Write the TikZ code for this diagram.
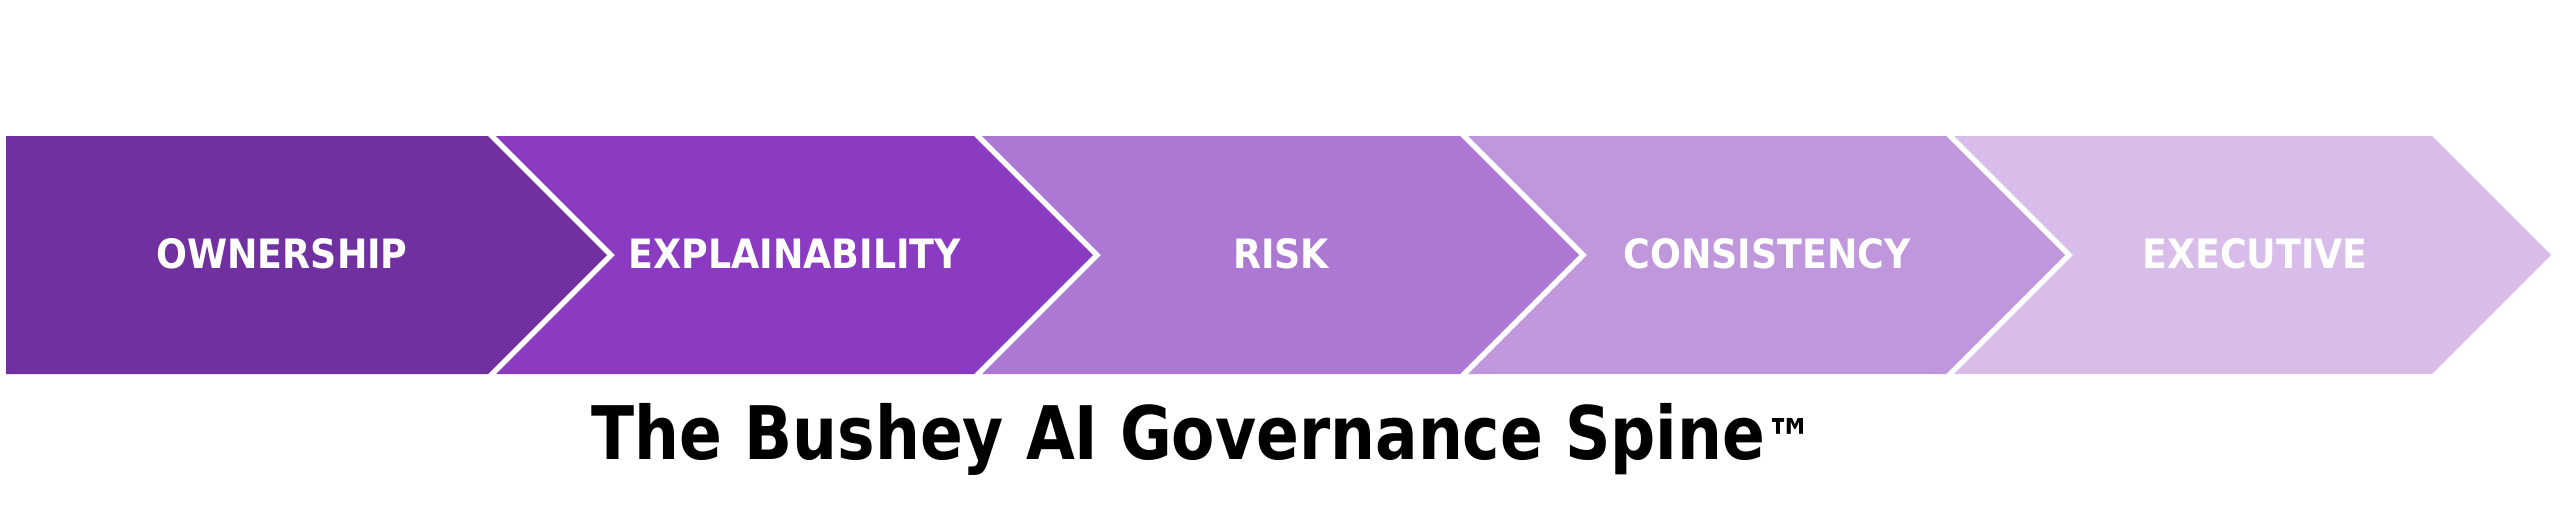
\documentclass[tikz,border=0pt]{standalone}
\usepackage{fontspec}
\usepackage{xcolor}
\usepackage{tikz}
\newfontfamily\spinefont{DejaVu Sans Condensed}
\newfontfamily\titlefont{DejaVu Sans Condensed}[FakeStretch=0.95]

\definecolor{ownerpurple}{HTML}{7030A0}
\definecolor{explainpurple}{HTML}{8A3BC2}
\definecolor{riskpurple}{HTML}{AD78D4}
\definecolor{consistpurple}{HTML}{C096DD}
\definecolor{execpurple}{HTML}{D8BCEA}

\tikzset{
  steplabel/.style={text=white, anchor=base, inner sep=0pt,
    font=\spinefont\bfseries\fontsize{11.5}{13}\selectfont},
}

\begin{document}
\begin{tikzpicture}[x=0.01cm, y=-0.01cm]
\useasboundingbox (0,0) rectangle (2560,517);

 % the five chevrons of the spine
 \fill[ownerpurple] (6,136) -- (488,136) -- (607,255) -- (488,374) -- (6,374) -- cycle;

 \fill[explainpurple] (496,136) -- (974,136) -- (1093,255) -- (974,374)
    -- (496,374) -- (615,255) -- cycle;

 \fill[riskpurple] (982,136) -- (1460,136) -- (1579,255) -- (1460,374)
    -- (982,374) -- (1101,255) -- cycle;

 \fill[consistpurple] (1468,136) -- (1946,136) -- (2065,255) -- (1946,374)
    -- (1468,374) -- (1587,255) -- cycle;

 \fill[execpurple] (1954,136) -- (2432,136) -- (2551,255) -- (2432,374)
    -- (1954,374) -- (2073,255) -- cycle;

 % labels
 \node[steplabel] (ownership) at (282,268) {OWNERSHIP};
 \node[steplabel] (explainability) at (795,268) {EXPLAINABILITY};
 \node[steplabel] (risk) at (1281,268) {RISK};
 \node[steplabel] (consistency) at (1767,268) {CONSISTENCY};
 \node[steplabel] (executive) at (2255,268) {EXECUTIVE};

 % title
 \node[anchor=base west, inner sep=0pt,
    font=\titlefont\bfseries\fontsize{21}{24}\selectfont] (title) at (591,459)
    {The Bushey AI Governance Spine{\fontsize{16}{18}\selectfont\texttrademark}};

\end{tikzpicture}
\end{document}
